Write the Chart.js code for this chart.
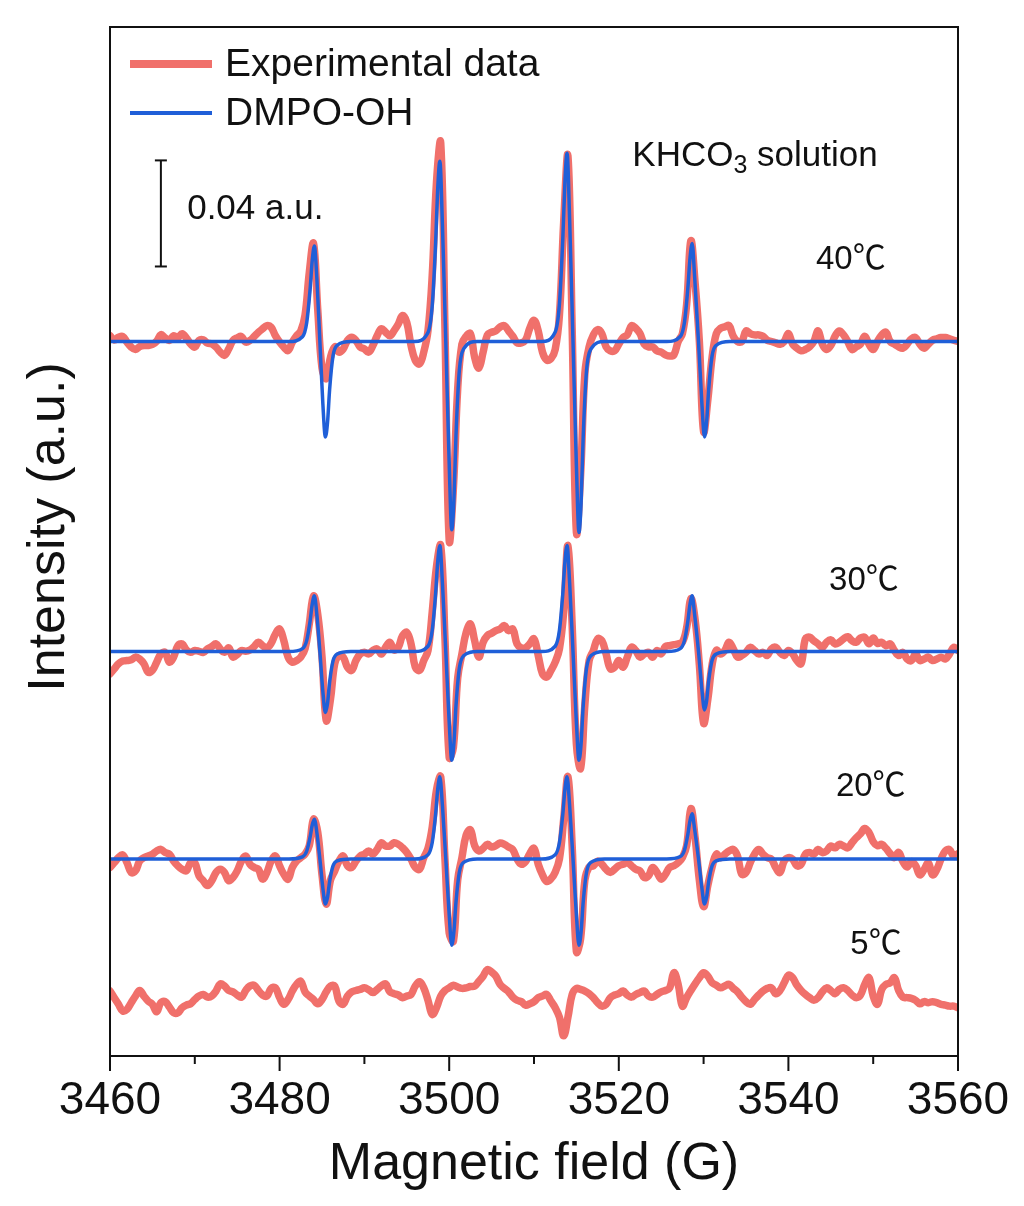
<!DOCTYPE html>
<html>
<head>
<meta charset="utf-8">
<title>EPR spectra - DMPO-OH in KHCO3 solution</title>
<script src="https://cdn.jsdelivr.net/npm/chart.js@4.4.1/dist/chart.umd.min.js"></script>
<style>
  html, body { margin: 0; padding: 0; background: #fff; }
  #wrap { width: 1024px; height: 1206px; }
</style>
</head>
<body>
<div id="wrap"><canvas id="epr" width="1024" height="1206"></canvas></div>
<script>
// ============================================
// Spectres RPE (DMPO-OH) - valeurs lues sur la figure
// unités y : 0.001 u.a. (la barre d'échelle = 0.04 u.a. = 40)
// ============================================

// balayage du champ : 3460 -> 3560 G, pas de 0.5 G
const fieldStart = 3460;
const fieldStep = 0.5;

// données expérimentales (écart à la ligne de base)
const exp40 = [
  2.2, 0.6, 1.6, 1.9, -0.2, -2.1, -3, -1.9, -1.5, -1.5,
  -1.1, 0.1, 2.6, 1.4, 0.4, 2.2, 1.6, 2.9, 1.4, -0.9,
  -2.1, 0.4, 0.6, -0.6, -0.9, -2.1, -4, -5.2, -2.8, 0.4,
  1.4, 1.9, -0.2, 0.4, 1.9, 3.5, 4.8, 6, 5.4, 2.2,
  -0.2, -2.1, -3.4, -0.2, 2.2, 4, 10, 26, 37, 12,
  -10, -14, -6, -2, -4, -2.8, 0.4, 1.6, 0.4, -2.1,
  -2.8, -4, -1.5, 2.2, 4.8, 3.5, 2.2, 4.1, 6.6, 9.8,
  7.2, -1.5, -7.1, -8.4, -4, 4.1, 25, 60, 75, 5,
  -75, -55, -18, -1, 2, 3, -6, -10, -4, 2.5,
  3.5, 4, 5.5, 6, 4, 2, -0.5, -0.5, 0.5, 5,
  8, 4, -4, -7, -6.5, -3, 10, 45, 70, 5,
  -72, -50, -12, -2, 2.5, 4.5, 3, -2, -3.5, -3.5,
  -1, 1.5, 2.5, 6, 5, 3, -1, -2, -2, -3.5,
  -4, -5, -5.5, -5, 0, 3, 14, 38, 22, 0,
  -34, -22, -6, 3, 5, 5.5, 6, 2, 0, 0,
  4, 3, 2.5, 2.5, 2, 0.5, 0, -0.5, -1, 0,
  3, -1, -2.5, -3.5, -3, -2, 0, 4, -1, -3,
  -1.5, 2, 4, 2.5, 0, -3, -2, -1, 2, -1,
  -3, 0, 2.5, 3.5, 0, -1, -2, -2.5, -1, 1,
  1.5, -1, -2.5, -1, 0.5, 1, 1.5, 1.5, 1, 0.5,
  0
];
const exp30 = [
  -8.4, -6.5, -4.6, -3.6, -3.4, -3.1, -2.1, -2.8, -4.6, -7.8,
  -7.1, -4, -0.9, -0.3, -4, -2.1, 2.2, 2.9, 0.6, -0.3,
  0.4, 0.1, -0.3, 1, 1.9, 2.9, 1, -0.3, 1.4, -2.1,
  -1.1, 0.4, 0.1, 0.6, 1.9, 3.5, 2.2, 1.4, 3.1, 6.6,
  8.5, 4.1, -2.1, -4, -3.4, -2.1, 1, 10.4, 21, 14,
  -2, -26, -18, -4.6, -1.5, -2.1, -5.9, -7.1, -3.4, -0.9,
  -0.3, -0.9, 0.4, 1, -0.9, 1.6, 3.5, 0.6, 1.6, 6,
  7.2, 2.9, -5.9, -7.1, -3.4, 0.4, 15, 32, 40, 5,
  -40, -36, -10, -0.9, 7.2, 10.4, 4.1, -2.1, 3.5, 6,
  6.9, 7.9, 8.5, 9.8, 7.9, 8.5, 2.9, 1.4, 1.4, 2.9,
  4.8, -1.5, -8.4, -9.6, -7.1, -4, 1, 15, 40, 10,
  -35, -44, -20, -3.4, 0.4, 4.8, 4.1, -0.9, -6.5, -5.9,
  -3.4, -5.9, -2.1, 1.6, 0.4, -2.1, -0.9, -0.3, -2.1, 0.4,
  -0.9, 1.9, 2.2, 2.6, 2.9, 3.5, 9, 20, 12, -5,
  -27, -18, -5, 0.5, -0.9, 0.4, 3.5, 1, -2.1, -1.5,
  -0.3, 1.6, 0.4, -0.9, -0.3, -1.5, 1, 1.6, -0.3, -1.5,
  0.4, -0.9, -3.4, -4.6, 4.8, 5.4, 4.1, 2.9, 1.6, 3.5,
  4.4, 2.9, 3.5, 4.8, 5.6, 4.1, 3.5, 5.1, 5.4, 2.9,
  5.1, 3.1, 3.5, 2.2, 2.9, 0.4, -1.5, -0.3, -2.8, -3.4,
  -0.9, -3.4, -2.8, -2.1, -3.4, -2.8, -2.1, -2.8, -0.9, 1.6,
  0.4
];
const exp20 = [
  -3.2, -1.4, 0.5, 1.5, -1.4, -5.1, -4.5, -0.8, 0.5, 1.1,
  1.8, 3, 3.6, 2.4, 1.8, -0.8, -2.6, -3.9, -4.5, -1.4,
  -1.4, -6.4, -8.2, -10, -8.2, -5.1, -3.9, -5.1, -8.2, -7,
  -4.5, -0.8, 1.1, -2, -3.2, -3.9, -7.6, -5.1, -0.8, 1.1,
  -2.6, -5.8, -7.6, -3.2, -0.8, 0.5, 1.8, 5, 15, 10,
  -6, -17, -8, -4.5, -0.8, 1.1, -2.6, -3.2, -0.8, 1.1,
  1.8, 3, 1.8, 3.6, 6.1, 4.9, 4.9, 6.1, 5.5, 4.2,
  2.4, -0.1, -3.2, -3.9, 0.5, 4, 12, 26, 31, 0,
  -28, -31, -8, 0.5, 9, 11, 5, 3, 4, 5.5,
  4.5, 5, 6, 5.5, 4.5, 3.5, 0, -2, -1, 2,
  4, -2, -6, -8.5, -7.5, -5, 0, 15, 31, 5,
  -35, -30, -8, -3, -2.6, -0.8, -2, -3.9, -5.1, -3.9,
  -2.6, -2, -1.4, -2.6, -3.9, -4.5, -7, -6.4, -3.2, -5.1,
  -7.6, -5.8, -3.2, -2.6, -1.4, 0.5, 5, 19, 8, -8,
  -18, -10, -3, 1.8, 0.5, 1.8, 3, 3.6, 1.1, -5.8,
  -5.1, -1.4, 1.8, 3.6, 1.8, 0.5, -0.1, -3.2, -5.1, -0.8,
  0.5, -0.1, -2.6, -2, 1.8, 2.4, 1.8, 3.6, 2.4, 3,
  4.9, 4.2, 5.5, 4.9, 4.2, 6.1, 8, 9.5, 11.5, 10,
  6.5, 5, 5.5, 4, 2, 0.5, 2.5, -1, -3, -1,
  -2.5, -6, -4, -1.5, -6, -4, 0, 3, 3.5, 1,
  2
];
const exp5 = [
  1.9, -0.6, -3.1, -5.6, -5, -2.5, 0, 2.1, 0, -1.9,
  -3.1, -5.9, -2.5, -2.1, -4.1, -6.3, -6.3, -4.4, -3.4, -2.9,
  -1.3, 0, 0.6, -0.4, 0, 1.9, 4.6, 3.8, 2.1, 1.6,
  0.4, -0.4, 2.1, 3.8, 4.1, 2.1, 0.4, 0, 2.9, 3.1,
  -0.6, -3.1, -1.3, 1.9, 4.4, 5.6, 1.6, 0, -1.3, -2.9,
  -1.3, 1.6, 3.8, 3.8, -1.9, -3.1, 0, 1.6, 2.1, 2.5,
  3.1, 2.4, 1.3, 2.5, 3.8, 4.6, 1.6, 0.9, 0.4, -0.6,
  0, 0.6, 3.8, 5.4, 3.1, -1.6, -6.9, -4.4, 0, 2.1,
  3.1, 4.1, 3.4, 2.9, 3.1, 3.6, 3.8, 5.6, 7.5, 10,
  9.1, 7.5, 4.4, 2.9, 1.6, -0.4, -1.6, -2.1, -3.4, -2.9,
  -2.1, -0.6, 0, 0.6, -1.9, -4.4, -8, -15, -8, 0.6,
  2.9, 2.5, 1.9, 0.9, -0.6, -2.5, -3.8, -3.1, -0.6, 0.4,
  0.9, 1.9, 0.4, -0.4, 0.6, 1.3, 1.9, 0, -0.4, 0.6,
  1.6, 2.1, 3.1, 8.8, 4.4, -3.8, -0.6, 2.1, 4.6, 6.9,
  8.8, 7.5, 5, 4.1, 3.1, 3.8, 4.4, 2.9, 1.6, -0.4,
  -2.1, -3.1, -1.3, 0.4, 1.9, 2.9, 3.1, 0.9, 2.1, 5,
  7.9, 6.9, 4.1, 2.1, 0.6, -0.6, -1.6, -0.6, 1.6, 3.1,
  2.1, 0.9, 2.5, 3.1, 2.1, 0.4, -0.6, 0.4, 4.4, 6.9,
  0, -3.1, 2.5, 4.4, 5, 6.9, 2.1, -0.4, -0.6, -0.9,
  -1.6, -2.9, -2.1, -2.5, -2.1, -2.5, -3.1, -3.4, -3.8, -3.8,
  -4.4
];

const fitField = [
  3460,
  3481.1, 3482.7, 3483.2, 3483.6, 3483.85, 3484.1, 3484.4, 3484.75, 3485.1, 3485.4, 3485.65, 3485.9, 3486.3, 3486.8, 3488.4,
  3495.9, 3497.5, 3498.0, 3498.4, 3498.65, 3498.9, 3499.2, 3499.6, 3500.0, 3500.3, 3500.55, 3500.8, 3501.2, 3501.7, 3503.3,
  3510.9, 3512.5, 3513.0, 3513.4, 3513.65, 3513.9, 3514.2, 3514.6, 3515.0, 3515.3, 3515.55, 3515.8, 3516.2, 3516.7, 3518.3,
  3525.65, 3527.25, 3527.75, 3528.15, 3528.4, 3528.65, 3528.95, 3529.4, 3529.8, 3530.1, 3530.35, 3530.6, 3531.0, 3531.5, 3533.1,
  3560
];
const fit40 = [
  0,
  0, 1.8, 7.2, 19.8, 30.6, 36, 23.4, 0, -23.4, -36, -30.6, -18, -5.4, -1.4, 0,
  0, 3.4, 13.6, 37.4, 57.8, 68, 44.2, 0, -46.2, -71, -60.4, -35.5, -10.7, -2.8, 0,
  0, 3.6, 14.2, 39, 60.4, 71, 46.2, 0, -46.8, -72, -61.2, -36, -10.8, -2.9, 0,
  0, 1.9, 7.4, 20.4, 31.5, 37, 24, 0, -23.4, -36, -30.6, -18, -5.4, -1.4, 0,
  0
];
const fit30 = [
  0,
  0, 1.1, 4.2, 11.6, 17.9, 21, 13.7, 0, -15, -23, -19.6, -11.5, -3.5, -0.9, 0,
  0, 2, 8, 22, 34, 40, 26, 0, -26.7, -41, -34.9, -20.5, -6.2, -1.6, 0,
  0, 2, 8, 22, 34, 40, 26, 0, -26.7, -41, -34.9, -20.5, -6.2, -1.6, 0,
  0, 1.1, 4.2, 11.6, 17.9, 21, 13.7, 0, -14.3, -22, -18.7, -11, -3.3, -0.9, 0,
  0
];
const fit20 = [
  0,
  0, 0.8, 3, 8.3, 12.8, 15, 9.8, 0, -11, -17, -14.5, -8.5, -2.6, -0.7, 0,
  0, 1.6, 6.2, 17, 26.4, 31, 20.2, 0, -21.1, -32.5, -27.6, -16.3, -4.9, -1.3, 0,
  0, 1.6, 6.2, 17, 26.4, 31, 20.2, 0, -21.1, -32.5, -27.6, -16.3, -4.9, -1.3, 0,
  0, 0.9, 3.4, 9.4, 14.5, 17, 11, 0, -11, -17, -14.5, -8.5, -2.6, -0.7, 0,
  0
];

// décalage vertical de chaque spectre (même unité)
const tempLabels = ['40℃', '30℃', '20℃', '5℃'];
const baselines = [269.4, 152.5, 74.3, 22.6];
const legendLabels = ['Experimental data', 'DMPO-OH'];
const scaleBarValue = 40;     // 0.04 u.a.
const scaleBarBase = 297.7;

// Couleurs
const RED = '#F0706B';
const BLUE = '#1F5FD8';
const INK = '#111111';
const FONT = '"Liberation Sans", Arial, "Noto Sans CJK SC", sans-serif';

Chart.defaults.font.family = FONT;
Chart.defaults.color = INK;

const field = exp40.map((_, i) => fieldStart + i * fieldStep);
const toPoints = (xs, ys, shift) => ys.map((v, i) => ({ x: xs[i], y: v + shift }));

const datasets = [];
// barre d'échelle 0.04 u.a.
datasets.push({
  label: 'scale',
  data: [{ x: 3466, y: scaleBarBase }, { x: 3466, y: scaleBarBase + scaleBarValue }],
  borderColor: INK, borderWidth: 2,
  pointStyle: 'line', pointRadius: 6, pointBorderWidth: 2, pointBorderColor: INK,
  order: 0
});
[fit40, fit30, fit20].forEach((ys, i) => {
  datasets.push({
    label: legendLabels[1],
    data: toPoints(fitField, ys, baselines[i]),
    borderColor: BLUE, borderWidth: 3.5,
    pointRadius: 0, cubicInterpolationMode: 'monotone',
    borderJoinStyle: 'round', borderCapStyle: 'round',
    order: 1
  });
});
[exp40, exp30, exp20, exp5].forEach((ys, i) => {
  datasets.push({
    label: legendLabels[0],
    data: toPoints(field, ys, baselines[i]),
    borderColor: RED, borderWidth: 7.5,
    pointRadius: 0, tension: 0.4,
    borderJoinStyle: 'round', borderCapStyle: 'round',
    order: 2
  });
});

// cadre, graduations, titre vertical, légende et annotations
const notesPlugin = {
  id: 'notes',
  afterDraw(chart) {
    const { ctx, chartArea: a, scales: { x, y } } = chart;
    ctx.save();
    ctx.strokeStyle = INK;
    ctx.lineWidth = 2;
    ctx.strokeRect(a.left, a.top, a.right - a.left, a.bottom - a.top);

    // graduations majeures (20 G) et mineures (10 G)
    x.ticks.forEach(t => {
      const px = x.getPixelForValue(t.value);
      const len = t.value % 20 === 0 ? 15 : 8;
      ctx.beginPath();
      ctx.moveTo(px, a.bottom);
      ctx.lineTo(px, a.bottom + len);
      ctx.stroke();
    });

    // titre de l'axe vertical
    ctx.save();
    ctx.translate(50, 527);
    ctx.rotate(-Math.PI / 2);
    ctx.font = '52px ' + FONT;
    ctx.fillStyle = INK;
    ctx.textAlign = 'center';
    ctx.textBaseline = 'middle';
    ctx.fillText('Intensity (a.u.)', 0, 0);
    ctx.restore();

    // légende
    const swatches = [{ color: RED, width: 8 }, { color: BLUE, width: 4 }];
    ctx.font = '39px ' + FONT;
    ctx.textBaseline = 'middle';
    ctx.textAlign = 'left';
    legendLabels.forEach((lbl, i) => {
      const ly = a.top + 37 + i * 49;
      ctx.strokeStyle = swatches[i].color;
      ctx.lineWidth = swatches[i].width;
      ctx.beginPath();
      ctx.moveTo(a.left + 20, ly);
      ctx.lineTo(a.left + 102, ly);
      ctx.stroke();
      ctx.fillStyle = INK;
      ctx.fillText(lbl, a.left + 115, ly + 1);
    });

    ctx.textBaseline = 'alphabetic';
    ctx.fillStyle = INK;

    // KHCO3 solution
    let kx = x.getPixelForValue(3521.6);
    const ky = y.getPixelForValue(335.5);
    ctx.font = '35px ' + FONT;
    ctx.fillText('KHCO', kx, ky);
    kx += ctx.measureText('KHCO').width;
    ctx.font = '25px ' + FONT;
    ctx.fillText('3', kx, ky + 7);
    kx += ctx.measureText('3').width;
    ctx.font = '35px ' + FONT;
    ctx.fillText(' solution', kx, ky);

    // 0.04 a.u.
    ctx.font = '35px ' + FONT;
    ctx.fillText('0.04 a.u.', x.getPixelForValue(3469.1), y.getPixelForValue(315.5));

    // températures
    ctx.font = '33px ' + FONT;
    const tempPos = [[3543.25, 296.6], [3544.8, 175.8], [3545.6, 98.1], [3547.3, 38.5]];
    tempLabels.forEach((t, i) => {
      ctx.fillText(t, x.getPixelForValue(tempPos[i][0]), y.getPixelForValue(tempPos[i][1]));
    });
    ctx.restore();
  }
};

new Chart(document.getElementById('epr').getContext('2d'), {
  type: 'line',
  data: { datasets },
  options: {
    responsive: false,
    animation: false,
    events: [],
    layout: { padding: { top: 27, right: 66, left: 110, bottom: 0 } },
    plugins: { legend: { display: false }, tooltip: { enabled: false } },
    scales: {
      x: {
        type: 'linear', min: 3460, max: 3560,
        grid: { display: false, drawTicks: false },
        border: { display: false },
        ticks: {
          stepSize: 10, autoSkip: false, maxRotation: 0, padding: 14,
          color: INK, font: { size: 46, lineHeight: 1.38 },
          callback: v => (v % 20 === 0 ? String(v) : '')
        },
        title: { display: true, text: 'Magnetic field (G)', color: INK, font: { size: 52 }, padding: { top: 0, bottom: 10 } },
        afterFit: s => { s.height = 150; }
      },
      y: {
        type: 'linear', min: 0, max: 388,
        display: false
      }
    }
  },
  plugins: [notesPlugin]
});
</script>
</body>
</html>
